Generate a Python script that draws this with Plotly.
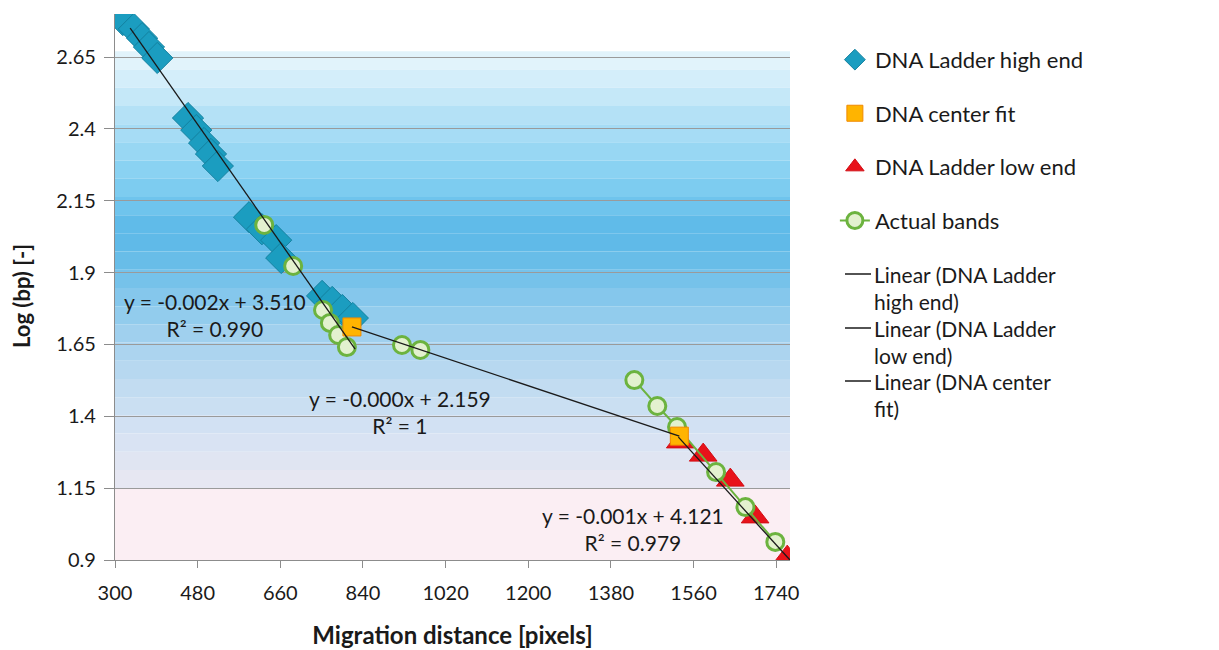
import numpy as np
import plotly.graph_objects as go

# ---------------- data ----------------
high_x = [317, 341, 359, 374, 392, 459, 477, 494, 509, 524, 592, 620, 651, 662, 751, 773, 795, 818]
high_y = [2.779, 2.748, 2.716, 2.685, 2.647, 2.438, 2.396, 2.351, 2.313, 2.271,
          2.093, 2.051, 2.013, 1.951, 1.819, 1.798, 1.770, 1.742]

center_x = [816, 1529]
center_y = [1.711, 1.331]

low_x = [1531, 1581, 1640, 1694, 1764]
low_y = [1.311, 1.265, 1.178, 1.050, 0.910]

# None marks a break in the connecting line
band_x = [625, None, 688, None, 753, 768, 786, 805, None, 925, 965, None,
          1431, 1481, 1524, 1609, 1673, 1738]
band_y = [2.066, None, 1.923, None, 1.770, 1.725, 1.683, 1.641, None, 1.648, 1.631, None,
          1.526, 1.436, 1.363, 1.206, 1.084, 0.963]

# linear trend lines: slope, intercept, x-span
trend_names = ["Linear (DNA Ladder high end)", "Linear (DNA Ladder low end)",
               "Linear (DNA center fit)"]
trend_legend_text = ["Linear (DNA Ladder<br>high end)",
                     "Linear (DNA Ladder<br>low end)",
                     "Linear (DNA center<br>fit)"]
trend_slope = [-0.00228, -0.00176, -0.000533]
trend_intercept = [3.510, 4.015, 2.146]
trend_x0 = [333, 1527, 816]
trend_x1 = [823, 1770, 1529]

eq_text = ["y = -0.002x + 3.510<br>R² = 0.990",
           "y = -0.000x + 2.159<br>R² = 1",
           "y = -0.001x + 4.121<br>R² = 0.979"]
eq_x = [518, 921, 1429]
eq_y = [1.752, 1.415, 1.008]

x_ticks = [300, 480, 660, 840, 1020, 1200, 1380, 1560, 1740]
y_ticks = [0.9, 1.15, 1.4, 1.65, 1.9, 2.15, 2.4, 2.65]

FONT = "Lato"
TXT = "#1a1a1a"

# plot-area geometry on the page (used to place manual legend items)
PX_L, PX_R, PX_T, PX_B = 115, 790, 14, 560


def paper_x(px):
    return (px - PX_L) / (PX_R - PX_L)


def paper_y(py):
    return (PX_B - py) / (PX_B - PX_T)


fig = go.Figure()

# ---------------- background gradient bands ----------------
stops = [(2.67, (232, 246, 252)), (2.55, (207, 236, 249)), (2.45, (180, 225, 246)),
         (2.30, (147, 213, 243)), (2.18, (122, 203, 240)), (2.05, (92, 184, 232)),
         (1.95, (102, 188, 232)), (1.80, (136, 200, 236)), (1.65, (168, 211, 239)),
         (1.50, (194, 220, 241)), (1.35, (213, 226, 243)), (1.15, (233, 232, 242))]


def interp(v):
    for (a, ca), (b, cb) in zip(stops[:-1], stops[1:]):
        if b <= v <= a:
            t = (a - v) / (a - b)
            return tuple(int(round(ca[i] + (cb[i] - ca[i]) * t)) for i in range(3))
    return stops[-1][1]


shapes = []
edges = np.linspace(2.67, 1.15, 25)
for top, bot in zip(edges[:-1], edges[1:]):
    c = interp((top + bot) / 2)
    shapes.append(dict(type="rect", xref="paper", yref="y", x0=0, x1=1, y0=bot, y1=top,
                       fillcolor="rgb(%d,%d,%d)" % c, line_width=0, layer="below"))
shapes.append(dict(type="rect", xref="paper", yref="y", x0=0, x1=1, y0=0.9, y1=1.15,
                   fillcolor="rgb(251,238,243)", line_width=0, layer="below"))

# ---------------- series ----------------
fig.add_trace(go.Scatter(
    x=high_x, y=high_y, mode="markers", name="DNA Ladder high end",
    legendgroup="g1", legendrank=1,
    marker=dict(symbol="diamond", size=24, color="#1b9dc0",
                line=dict(color="#14819f", width=1))))
fig.add_trace(go.Scatter(
    x=low_x, y=low_y, mode="markers", name="DNA Ladder low end",
    legendgroup="g3", legendrank=3,
    marker=dict(symbol="triangle-up", size=24, color="#e8121a",
                line=dict(color="#d10f16", width=1))))
fig.add_trace(go.Scatter(
    x=band_x, y=band_y, mode="lines+markers", name="Actual bands",
    legendgroup="g4", legendrank=4, connectgaps=False,
    line=dict(color="#6cb33f", width=2),
    marker=dict(symbol="circle", size=17, color="#e3f1cf",
                line=dict(color="#6cb33f", width=3))))
fig.add_trace(go.Scatter(
    x=center_x, y=center_y, mode="markers", name="DNA center fit",
    legendgroup="g2", legendrank=2,
    marker=dict(symbol="square", size=18, color="#ffb400",
                line=dict(color="#f08a00", width=1))))

# ---------------- linear trend lines ----------------
for name, k, b, x0, x1 in zip(trend_names, trend_slope, trend_intercept, trend_x0, trend_x1):
    xr = np.array([x0, x1], dtype=float)
    fig.add_trace(go.Scatter(
        x=xr, y=k * xr + b, mode="lines", name=name, showlegend=False,
        line=dict(color="#1a1a1a", width=1.3)))

# ---------------- equation labels ----------------
for t, x, y in zip(eq_text, eq_x, eq_y):
    fig.add_annotation(x=x, y=y, text=t, showarrow=False, align="center",
                       font=dict(family=FONT, size=21, color=TXT))

# ---------------- legend entries for the trend lines (two-line labels) ----------------
first_line_py = [274, 328, 381]
for txt, py in zip(trend_legend_text, first_line_py):
    shapes.append(dict(type="line", xref="paper", yref="paper",
                       x0=paper_x(845), x1=paper_x(871), y0=paper_y(py), y1=paper_y(py),
                       line=dict(color="#1a1a1a", width=1.5)))
    fig.add_annotation(xref="paper", yref="paper", x=paper_x(873),
                       y=paper_y(py - 13), xanchor="left", yanchor="top",
                       text=txt, showarrow=False, align="left", borderpad=0,
                       font=dict(family=FONT, size=21, color=TXT))

# y-axis title
fig.add_annotation(xref="paper", yref="paper", x=paper_x(22), y=paper_y(296),
                   text="<b>Log (bp) [-]</b>", textangle=-90, showarrow=False,
                   xanchor="center", yanchor="middle",
                   font=dict(family=FONT, size=22, color=TXT))

fig.update_layout(
    width=1211, height=642,
    margin=dict(l=107, r=429, t=6, b=90),
    paper_bgcolor="white", plot_bgcolor="white",
    shapes=shapes,
    font=dict(family=FONT, color=TXT),
    legend=dict(x=1.0665, y=0.9545, xanchor="left", yanchor="top",
                traceorder="grouped", tracegroupgap=22,
                font=dict(family=FONT, size=22, color=TXT),
                bgcolor="rgba(0,0,0,0)", itemwidth=30),
    xaxis=dict(range=[300, 1770], tickmode="array", tickvals=x_ticks,
               ticktext=[str(v) for v in x_ticks],
               showgrid=False, zeroline=False, showline=True,
               linecolor="#8c8c8c", linewidth=1.3,
               ticks="outside", ticklen=7, tickcolor="#8c8c8c",
               ticklabelstandoff=8,
               tickfont=dict(family=FONT, size=20, color=TXT),
               title=dict(text="<b>Migration distance [pixels]</b>",
                          font=dict(family=FONT, size=24, color=TXT), standoff=24)),
    yaxis=dict(range=[0.9, 2.8], tickmode="array", tickvals=y_ticks,
               ticktext=[str(v) for v in y_ticks],
               showgrid=True, gridcolor="#9a9a9a", gridwidth=1.3, zeroline=False,
               showline=True, linecolor="#8c8c8c", linewidth=1.3,
               ticks="outside", ticklen=10, tickcolor="#8c8c8c",
               ticklabelstandoff=4,
               tickfont=dict(family=FONT, size=20, color=TXT)),
)

fig.write_html("out.html")
